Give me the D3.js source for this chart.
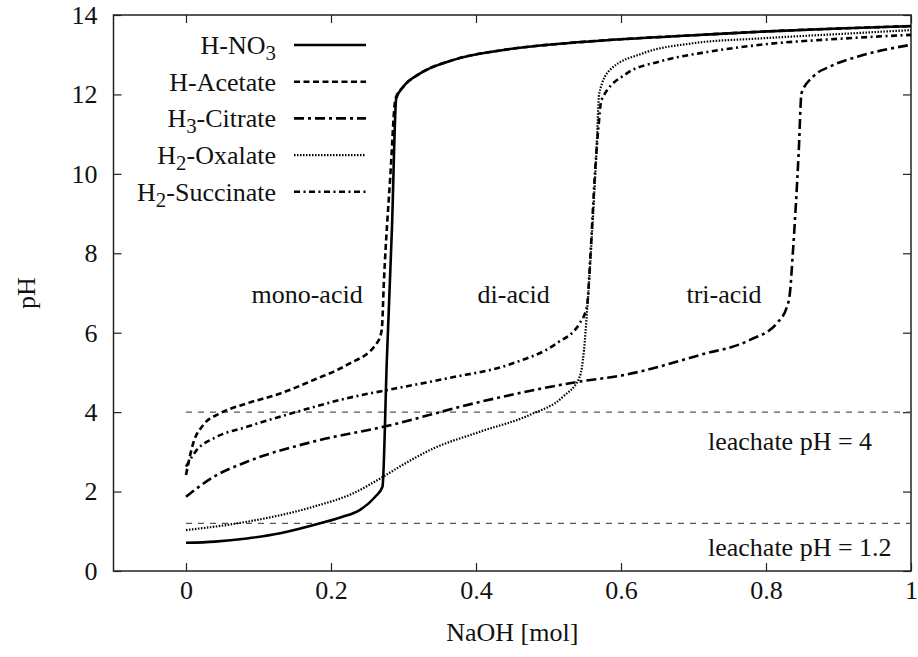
<!DOCTYPE html>
<html>
<head>
<meta charset="utf-8">
<script src="https://cdn.jsdelivr.net/npm/d3@7"></script>
<style>
  html, body { margin: 0; padding: 0; background: #fff; }
  svg { display: block; }
  svg text { font-family: "Liberation Serif", "Times New Roman", Times, serif; }
</style>
</head>
<body>
<svg id="chart" width="918" height="657"></svg>
<script>
// ---------- data ----------
const xTicks = [0, 0.2, 0.4, 0.6, 0.8, 1];
const yTicks = [0, 2, 4, 6, 8, 10, 12, 14];

const nitricX = [0, 0.04, 0.084, 0.13, 0.185, 0.215, 0.24, 0.261, 0.271, 0.277, 0.284, 0.29, 0.30, 0.323, 0.369, 0.438, 0.525, 0.6, 0.7, 0.792, 0.9, 1.0];
const nitricPH = [0.71, 0.74, 0.82, 0.95, 1.2, 1.36, 1.54, 1.87, 2.12, 5.3, 8.6, 11.9, 12.2, 12.53, 12.87, 13.12, 13.29, 13.39, 13.49, 13.58, 13.66, 13.72];

const acetateX = [0, 0.01, 0.024, 0.047, 0.084, 0.13, 0.176, 0.222, 0.263, 0.27, 0.273, 0.282, 0.289, 0.30, 0.323, 0.369, 0.438, 0.525, 0.6, 0.7, 0.792, 0.9, 1.0];
const acetatePH = [2.42, 3.22, 3.68, 3.97, 4.22, 4.47, 4.81, 5.19, 5.73, 6.07, 7.3, 10.0, 11.9, 12.2, 12.53, 12.87, 13.12, 13.29, 13.39, 13.49, 13.58, 13.66, 13.72];

const citrateX = [0, 0.038, 0.084, 0.176, 0.272, 0.406, 0.543, 0.6, 0.709, 0.778, 0.815, 0.829, 0.833, 0.837, 0.845, 0.849, 0.865, 0.888, 0.934, 1.0];
const citratePH = [1.87, 2.37, 2.75, 3.26, 3.63, 4.26, 4.77, 4.92, 5.44, 5.82, 6.24, 6.66, 7.0, 8.0, 10.5, 12.03, 12.45, 12.7, 12.99, 13.25];

const oxalateX = [0, 0.084, 0.176, 0.231, 0.268, 0.295, 0.337, 0.406, 0.474, 0.52, 0.543, 0.549, 0.553, 0.56, 0.566, 0.57, 0.585, 0.631, 0.7, 0.792, 0.9, 1.0];
const oxalatePH = [1.03, 1.24, 1.62, 1.96, 2.33, 2.63, 3.05, 3.51, 3.93, 4.39, 4.89, 5.57, 6.5, 8.5, 10.5, 12.03, 12.62, 13.04, 13.29, 13.41, 13.52, 13.62];

const succinateX = [0, 0.015, 0.038, 0.084, 0.153, 0.222, 0.29, 0.36, 0.451, 0.511, 0.543, 0.553, 0.558, 0.564, 0.569, 0.573, 0.608, 0.654, 0.723, 0.792, 0.9, 1.0];
const succinatePH = [2.63, 3.05, 3.34, 3.63, 4.01, 4.35, 4.6, 4.85, 5.23, 5.73, 6.24, 6.66, 8.0, 10.0, 11.2, 11.86, 12.53, 12.83, 13.08, 13.25, 13.4, 13.5];

const leachateLevels = [4, 1.2];
const leachateLabels = ["leachate pH = 4", "leachate pH = 1.2"];
const regionLabels = ["mono-acid", "di-acid", "tri-acid"];
const regionLabelX = [0.167, 0.452, 0.742];

// ---------- layout ----------
const W = 918, H = 657;
const m = { left: 113.5, right: 7, top: 15, bottom: 86 };
const iw = W - m.left - m.right, ih = H - m.top - m.bottom;

const svg = d3.select("#chart");
const g = svg.append("g").attr("transform", `translate(${m.left},${m.top})`);

const x = d3.scaleLinear().domain([-0.1, 1]).range([0, iw]);
const y = d3.scaleLinear().domain([0, 14]).range([ih, 0]);

const FS = 26;
const FONT = '"Liberation Serif", "Times New Roman", Times, serif';

// axes
const axB = g.append("g").attr("transform", `translate(0,${ih})`)
  .call(d3.axisBottom(x).tickValues(xTicks).tickFormat(d3.format("")).tickSizeInner(-8).tickSizeOuter(0).tickPadding(10));
const axL = g.append("g")
  .call(d3.axisLeft(y).tickValues(yTicks).tickFormat(d3.format("")).tickSizeInner(-8).tickSizeOuter(0).tickPadding(16));
const axT = g.append("g")
  .call(d3.axisTop(x).tickValues(xTicks).tickFormat("").tickSizeInner(-8).tickSizeOuter(0));
const axR = g.append("g").attr("transform", `translate(${iw},0)`)
  .call(d3.axisRight(y).tickValues(yTicks).tickFormat("").tickSizeInner(-8).tickSizeOuter(0));

[axB, axL, axT, axR].forEach(a => {
  a.attr("font-family", FONT);
  a.select(".domain").remove();
  a.selectAll(".tick line").attr("stroke", "#222").attr("stroke-width", 1.2);
  a.selectAll("text").attr("font-family", FONT).attr("font-size", FS).attr("fill", "#111");
});

// frame
g.append("rect").attr("x", 0).attr("y", 0).attr("width", iw).attr("height", ih)
  .attr("fill", "none").attr("stroke", "#222").attr("stroke-width", 1.5);

// leachate reference lines
g.selectAll(".ref").data(leachateLevels).enter().append("line")
  .attr("x1", x(0)).attr("x2", x(1))
  .attr("y1", d => y(d)).attr("y2", d => y(d))
  .attr("stroke", "#555").attr("stroke-width", 1.4).attr("stroke-dasharray", "6,6");

g.selectAll(".reflab").data(leachateLabels).enter().append("text")
  .attr("x", x(0.72)).attr("y", (d, i) => y([3.05, 0.38][i]))
  .attr("font-family", FONT).attr("font-size", FS).attr("fill", "#111").text(d => d);

g.selectAll(".reglab").data(regionLabels).enter().append("text")
  .attr("x", (d, i) => x(regionLabelX[i])).attr("y", y(6.75))
  .attr("text-anchor", "middle").attr("font-family", FONT).attr("font-size", FS).attr("fill", "#111").text(d => d);

// series
const series = [
  { name: [["H-NO", 0], ["3", 1]], xs: nitricX, ys: nitricPH, dash: null, w: 2.6 },
  { name: [["H-Acetate", 0]], xs: acetateX, ys: acetatePH, dash: "6,3.5", w: 2.6 },
  { name: [["H", 0], ["3", 1], ["-Citrate", 2]], xs: citrateX, ys: citratePH, dash: "10,4,3,4", w: 2.6 },
  { name: [["H", 0], ["2", 1], ["-Oxalate", 2]], xs: oxalateX, ys: oxalatePH, dash: "1.5,1.5", w: 2.2 },
  { name: [["H", 0], ["2", 1], ["-Succinate", 2]], xs: succinateX, ys: succinatePH, dash: "6,3.5,2,3.5", w: 2.6 }
];

const line = d3.line().x(d => x(d[0])).y(d => y(d[1])).curve(d3.curveMonotoneX);

series.slice().reverse().forEach(s => {
  const pts = s.xs.map((v, i) => [v, s.ys[i]]);
  g.append("path").datum(pts).attr("d", line)
    .attr("fill", "none").attr("stroke", "#000").attr("stroke-width", s.w)
    .attr("stroke-dasharray", s.dash).attr("stroke-linejoin", "round");
});

// legend
const legY0 = 45 - m.top, legStep = 36.7;
const leg = g.append("g");
series.forEach((s, i) => {
  const yy = legY0 + i * legStep;
  const t = leg.append("text").attr("x", 276 - m.left).attr("y", yy + 9)
    .attr("text-anchor", "end").attr("font-family", FONT).attr("font-size", FS).attr("fill", "#111");
  s.name.forEach(([txt, kind]) => {
    if (kind === 1) {
      t.append("tspan").attr("font-size", FS * 0.8).attr("dy", 6).text(txt);
    } else if (kind === 2) {
      t.append("tspan").attr("dy", -6).text(txt);
    } else {
      t.append("tspan").text(txt);
    }
  });
  leg.append("line").attr("x1", 294 - m.left).attr("x2", 366 - m.left)
    .attr("y1", yy).attr("y2", yy)
    .attr("stroke", "#000").attr("stroke-width", s.w).attr("stroke-dasharray", s.dash);
});

// axis titles
svg.append("text").attr("x", m.left + x(0.45)).attr("y", 641)
  .attr("text-anchor", "middle").attr("font-family", FONT).attr("font-size", FS).attr("fill", "#111").text("NaOH [mol]");
svg.append("text").attr("transform", `translate(35,${m.top + y(7)}) rotate(-90)`)
  .attr("text-anchor", "middle").attr("font-family", FONT).attr("font-size", FS).attr("fill", "#111").text("pH");
</script>
</body>
</html>
